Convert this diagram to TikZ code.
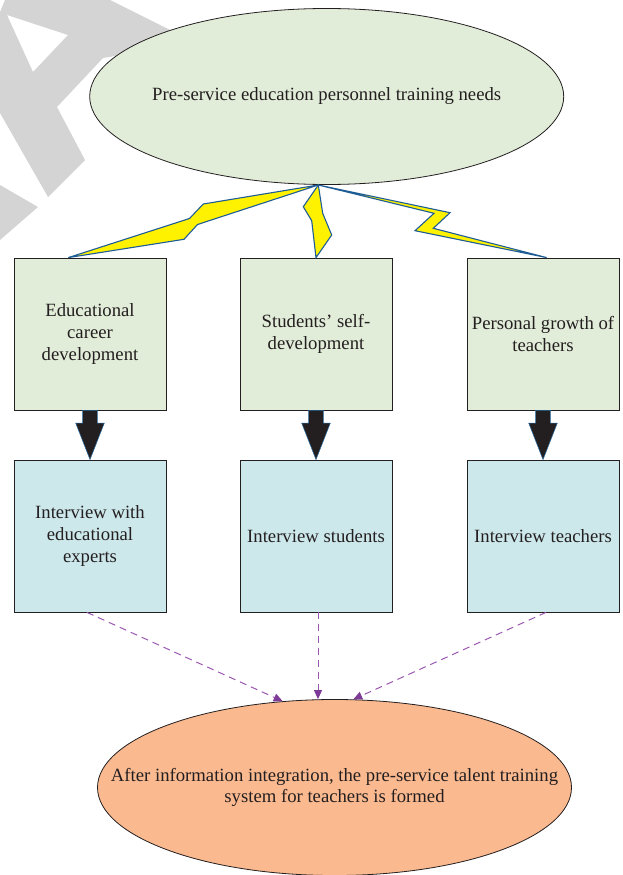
\documentclass[tikz,border=0pt]{standalone}
\usepackage{fontspec}
\setmainfont{Liberation Serif}
\usetikzlibrary{calc,arrows.meta,shapes.geometric}
\definecolor{ink}{HTML}{231F20}
\definecolor{wmgray}{HTML}{D4D4D4}
\definecolor{gfill}{HTML}{E2EDD9}
\definecolor{bfill}{HTML}{CDE8EB}
\definecolor{ofill}{HTML}{FBB98F}
\definecolor{boltfill}{HTML}{FFF200}
\definecolor{boltline}{HTML}{1D5C96}
\definecolor{fatline}{HTML}{2A6EA6}
\definecolor{dashcol}{HTML}{9A57B0}
\definecolor{tipcol}{HTML}{7D3A96}
\newcommand\txtfont{\fontsize{18.7}{21.7}\selectfont}
\newcommand\fatarrow[2]{%
  \filldraw[fatarr] ($(#1.south)+(-7.3,0)$) -- ($(#1.south)+(7.3,0)$)
    -- ($(#1.south)+(7.3,12.7)$) -- ($(#1.south)+(14.3,12.7)$) -- (#2.north)
    -- ($(#1.south)+(-14.3,12.7)$) -- ($(#1.south)+(-7.3,12.7)$) -- cycle;}
\begin{document}
\begin{tikzpicture}[x=1pt,y=-1pt,
  txt/.style={font=\txtfont, text=ink, align=center, inner sep=0pt},
  ellip/.style={ellipse, draw=ink, line width=0.8pt, inner sep=0pt,
    minimum width=474pt, minimum height=176pt},
  gbox/.style={rectangle, draw=ink, line width=0.8pt, fill=gfill,
    minimum width=152pt, minimum height=152pt, font=\txtfont, text=ink, align=center},
  bbox/.style={gbox, fill=bfill},
  bolt/.style={fill=boltfill, draw=boltline, line width=1.1pt, line join=miter},
  fatarr/.style={fill=ink, draw=fatline, line width=0.5pt},
  dasharr/.style={draw=dashcol, line width=1pt, dash pattern=on 7pt off 5pt,
    -{Triangle[length=9pt,width=8pt,color=tipcol,fill=tipcol]}},
  wm/.style={fill=wmgray, draw=none}]
\useasboundingbox (0,0) rectangle (622,875);

% watermark fragment
\fill[wm, even odd rule] (5,0) -- (110,0) -- (180,35) -- (150,50) -- (103,58) -- (57,107)
  -- (85,160) -- (48,197) -- (0,113) -- (0,12) -- cycle
  (7,15) -- (68,35) -- (33,72) -- cycle;
\fill[wm] (0,185) -- (38,207) -- (0,240) -- cycle;

% top ellipse
\node[ellip, fill=gfill] (need) at (326.7,96.5) {};
\node[txt] (needtext) at (need.center) {Pre-service education personnel training needs};

% first row
\node[gbox] (b1) at (90,334) {Educational\\career\\development};
\node[gbox] (b2) at (316,334) {Students' self-\\development};
\node[gbox] (b3) at (543,334) {Personal growth of\\teachers};

% second row
\node[bbox] (c1) at (90,536) {Interview with\\educational\\experts};
\node[bbox] (c2) at (316,536) {Interview students};
\node[bbox] (c3) at (543,536) {Interview teachers};

% bottom ellipse
\node[ellip, fill=ofill] (res) at (334.5,787.5) {};
\node[txt] (restext) at (res.center) {After information integration, the pre-service talent training\\system for teachers is formed};

% lightning bolts
\coordinate (bo) at (318.3,185);
\filldraw[bolt] (bo) -- (203.3,204) -- (189.5,218.5) -- ($(b1.north)+(-21.7,0)$)
  -- (184,239.3) -- (197.5,224.5) -- cycle;
\filldraw[bolt] (bo) -- (303.3,206.7) -- (311.7,220.7) -- (b2.north)
  -- (331.7,235) -- (322.7,213.3) -- cycle;
\filldraw[bolt] (bo) -- (450,212.7) -- (433.3,228.3) -- ($(b3.north)+(3.7,0)$)
  -- (415,230.7) -- (434,213.3) -- cycle;

% fat arrows
\fatarrow{b1}{c1}
\fatarrow{b2}{c2}
\fatarrow{b3}{c3}

% dashed arrows
\coordinate (m1) at ($(c2.south)+(2,0)$);
\draw[dasharr] ($(c1.south)+(-3,0)$) -- (res.121.6);
\draw[dasharr] (m1) -- (m1 |- res.north);
\draw[dasharr] ($(c3.south)+(3,0)$) -- (res.78);
\end{tikzpicture}
\end{document}
